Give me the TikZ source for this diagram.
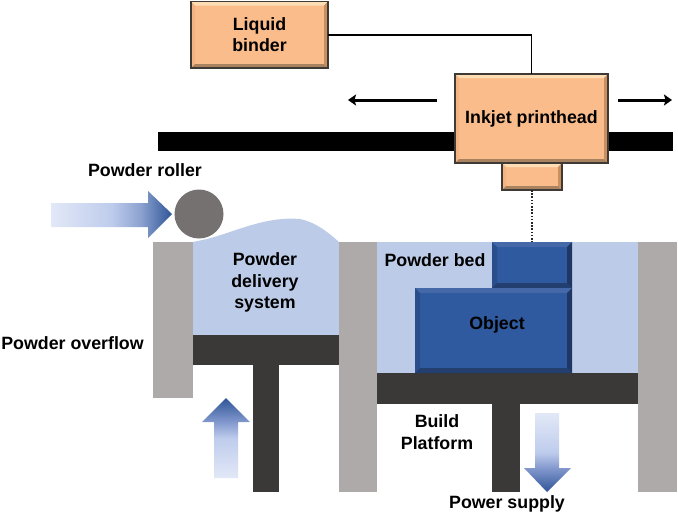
\documentclass[tikz,border=0pt]{standalone}
\usepackage{fontspec}
\setmainfont{Liberation Sans}
\usetikzlibrary{arrows.meta}
\definecolor{orangeface}{HTML}{FBBC8B}
\definecolor{orangetop}{HTML}{FFDDB5}
\definecolor{orangeleft}{HTML}{F3B482}
\definecolor{orangeright}{HTML}{C98F5F}
\definecolor{orangebottom}{HTML}{A9825F}
\definecolor{blueface}{HTML}{2F5A9F}
\definecolor{bluetop}{HTML}{4569A8}
\definecolor{blueleft}{HTML}{2A4E8B}
\definecolor{blueright}{HTML}{1E3764}
\definecolor{bluebottom}{HTML}{223F70}
\definecolor{powder}{HTML}{BCCCE8}
\definecolor{wall}{HTML}{AEAAAA}
\definecolor{piston}{HTML}{3B3838}
\definecolor{rollerc}{HTML}{767171}
\definecolor{edgec}{HTML}{3F3A36}
\pgfdeclarehorizontalshading{blueh}{100bp}{color(0bp)=({rgb,255:red,226;green,232;blue,247});color(25bp)=({rgb,255:red,226;green,232;blue,247});color(50bp)=({rgb,255:red,190;green,204;blue,236});color(62bp)=({rgb,255:red,140;green,162;blue,208});color(75bp)=({rgb,255:red,47;green,85;blue,151});color(100bp)=({rgb,255:red,47;green,85;blue,151})}
\pgfdeclareverticalshading{bluev}{100bp}{color(0bp)=({rgb,255:red,226;green,232;blue,247});color(25bp)=({rgb,255:red,226;green,232;blue,247});color(50bp)=({rgb,255:red,190;green,204;blue,236});color(60bp)=({rgb,255:red,130;green,152;blue,205});color(75bp)=({rgb,255:red,47;green,85;blue,151});color(100bp)=({rgb,255:red,47;green,85;blue,151})}
\tikzset{
  every node/.style={font=\fontsize{17.8}{21.5}\selectfont\bfseries, text=black},
  orangebox/.style={draw=edgec, line width=1.6pt, fill=orangeface, inner sep=0pt, outer sep=0pt, align=center},
  bluebox/.style={fill=blueface, inner sep=0pt, outer sep=0pt, align=center},
  lab/.style={inner sep=0pt, align=center},
  travel/.style={line width=3pt, -{Stealth[length=8pt,width=11pt,inset=1.5pt]}},
  feed/.style={draw=black, line width=1.6pt},
  jet/.style={draw=black!85, line width=1.8pt, dash pattern=on 1.6pt off 1.6pt},
}
% bevel strips inside a named node: name, depth, top, left, right, bottom colours
\newcommand{\bevelstrips}[6]{%
  \fill[#3] (#1.north west) -- (#1.north east) -- ([xshift=-#2pt,yshift=-#2pt]#1.north east) -- ([xshift=#2pt,yshift=-#2pt]#1.north west) -- cycle;
  \fill[#4] (#1.north west) -- (#1.south west) -- ([xshift=#2pt,yshift=#2pt]#1.south west) -- ([xshift=#2pt,yshift=-#2pt]#1.north west) -- cycle;
  \fill[#5] (#1.north east) -- (#1.south east) -- ([xshift=-#2pt,yshift=#2pt]#1.south east) -- ([xshift=-#2pt,yshift=-#2pt]#1.north east) -- cycle;
  \fill[#6] (#1.south west) -- (#1.south east) -- ([xshift=-#2pt,yshift=#2pt]#1.south east) -- ([xshift=#2pt,yshift=#2pt]#1.south west) -- cycle;
}
\newcommand{\orangebevel}[1]{%
  \bevelstrips{#1}{4}{orangetop}{orangeleft}{orangeright}{orangebottom}
  \draw[edgec, line width=1.6pt] (#1.north west) rectangle (#1.south east);
}
\begin{document}
\begin{tikzpicture}[x=1pt,y=-1pt]
\useasboundingbox (0,0) rectangle (678,515);
\fill[white] (0,0) rectangle (678,515);

% bar
\fill[black] (158,132) rectangle (673,151);

% powder bodies
\fill[powder] (193,335) -- (193,242) -- (207,239) .. controls (235,232) and (265,216) .. (300,219) .. controls (315,222) and (328,232) .. (339,242) -- (339,335) -- cycle;
\fill[powder] (377,242) rectangle (638,373);

% walls
\fill[wall] (153,242) rectangle (193,398);
\fill[wall] (339,242) rectangle (377,492);
\fill[wall] (638,242) rectangle (677,492);

% pistons
\fill[piston] (193,335) rectangle (339,365);
\fill[piston] (253,365) rectangle (279,492);
\fill[piston] (377,373) rectangle (638,404);
\fill[piston] (492,404) rectangle (520,492);

% roller
\fill[rollerc] (199,214) circle (24.5);

% gradient arrows
\shade[shading=blueh] (51,203) -- (148,203) -- (148,191) -- (172,214) -- (148,238) -- (148,227) -- (51,227) -- cycle;
\shade[shading=bluev] (214,478) -- (214,422) -- (202,422) -- (226,398) -- (250,422) -- (238,422) -- (238,478) -- cycle;
\shade[shading=bluev, shading angle=180] (535,413) -- (559,413) -- (559,468) -- (571,468) -- (547,492) -- (524,468) -- (535,468) -- cycle;

% boxes
\node[orangebox, minimum width=153pt, minimum height=89pt] (head) at (531.5,118.5) {\raisebox{-2pt}{Inkjet printhead}};
\node[orangebox, minimum width=137pt, minimum height=66.5pt] (binder) at (259.5,34.75) {Liquid\\binder};
\node[orangebox, minimum width=60pt, minimum height=27pt] (nozzle) at (532,176.5) {};
\orangebevel{binder}
\orangebevel{head}
\orangebevel{nozzle}

\node[bluebox, minimum width=80pt, minimum height=46pt] (objtop) at (532,265) {};
\bevelstrips{objtop}{5}{bluetop}{blueleft}{blueright}{bluebottom}
\node[bluebox, minimum width=157pt, minimum height=85pt] (objlow) at (493.5,330.5) {};
\bevelstrips{objlow}{5}{bluetop}{blueleft}{blueright}{bluebottom}

% connectors
\draw[feed] (binder.east) -| (head.north);
\draw[jet] (nozzle.south) -- (objtop.north);
\coordinate (leftstart) at (437,100);
\coordinate (leftend) at (348,100);
\coordinate (rightstart) at (618,100);
\coordinate (rightend) at (672,100);
\draw[travel] (leftstart) -- (leftend);
\draw[travel] (rightstart) -- (rightend);

% labels
\node[lab] (objtext) at (497,325) {Object};
\node[lab] (rollerlab) at (145,170) {Powder roller};
\node[lab] (deliverylab) at (265,282.5) {Powder\\delivery\\system};
\node[lab] (overflowlab) at (72.5,343) {Powder overflow};
\node[lab] (bedlab) at (435,260) {Powder bed};
\node[lab] (buildlab) at (437,432) {Build\\Platform};
\node[lab] (supplylab) at (507,503.5) {Power supply};
\end{tikzpicture}
\end{document}
